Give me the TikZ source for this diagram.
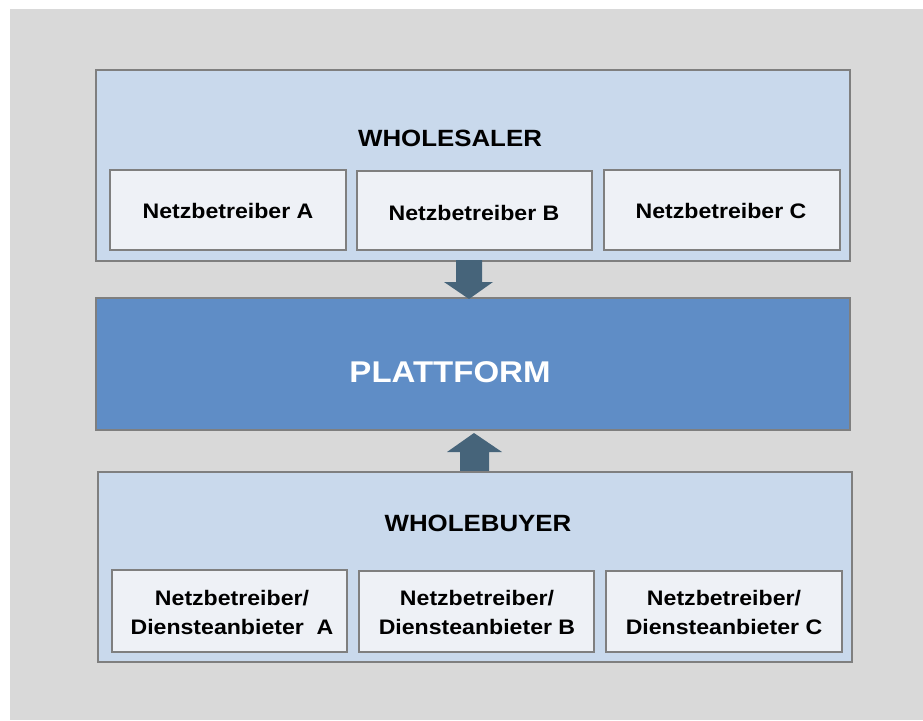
\documentclass[tikz,border=0pt]{standalone}
\usepackage{fontspec}
\setmainfont[FakeStretch=1.1]{Liberation Sans}
\definecolor{bggray}{HTML}{D9D9D9}
\definecolor{outerfill}{HTML}{C9D9EC}
\definecolor{innerfill}{HTML}{EEF1F6}
\definecolor{platfill}{HTML}{5F8DC6}
\definecolor{boxline}{HTML}{7F7F7F}
\definecolor{arrowcol}{HTML}{46647A}
\tikzset{
  outerbox/.style={draw=boxline, line width=2pt, fill=outerfill},
  innerbox/.style={draw=boxline, line width=2pt, fill=innerfill},
  platbox/.style={draw=boxline, line width=2pt, fill=platfill},
  innertxt/.style={font=\fontsize{21}{29}\selectfont\bfseries, align=center},
  titletxt/.style={font=\fontsize{23.5}{28}\selectfont\bfseries},
  fatarrow/.style={fill=arrowcol, draw=none}
}
\begin{document}
\begin{tikzpicture}[x=1pt,y=-1pt]
\useasboundingbox (0,0) rectangle (923,720);
\fill[white] (0,0) rectangle (923,720);
\fill[bggray] (10,9) rectangle (923,720);
% wholesaler
\draw[outerbox] (96,70) rectangle (850,261);
\node[titletxt] (wsl) at (450,138) {WHOLESALER};
\draw[innerbox] (110,170) rectangle (346,250);
\node[innertxt] (wa) at (228,211) {Netzbetreiber A};
\draw[innerbox] (357,171) rectangle (592,250);
\node[innertxt] (wb) at (474,213) {Netzbetreiber B};
\draw[innerbox] (604,170) rectangle (840,250);
\node[innertxt] (wc) at (721,211) {Netzbetreiber C};
% platform
\draw[platbox] (96,298) rectangle (850,430);
\node[font=\fontsize{30}{36}\selectfont\bfseries, text=white] (plat) at (450,372) {PLATTFORM};
% arrows
\fill[fatarrow] (456,260) -- (482,260) -- (482,282) -- (493,282) -- (469,299) -- (444,282) -- (456,282) -- cycle;
\fill[fatarrow] (460,471) -- (489,471) -- (489,452) -- (502,452) -- (474,433) -- (447,452) -- (460,452) -- cycle;
% wholebuyer
\draw[outerbox] (98,472) rectangle (852,662);
\node[titletxt] (wby) at (478,523) {WHOLEBUYER};
\draw[innerbox] (112,570) rectangle (347,652);
\node[innertxt] (ba) at (232,612) {Netzbetreiber/\\Diensteanbieter\ \ A};
\draw[innerbox] (359,571) rectangle (594,652);
\node[innertxt] (bb) at (477,612) {Netzbetreiber/\\Diensteanbieter B};
\draw[innerbox] (606,571) rectangle (842,652);
\node[innertxt] (bc) at (724,612) {Netzbetreiber/\\Diensteanbieter C};
\end{tikzpicture}
\end{document}
